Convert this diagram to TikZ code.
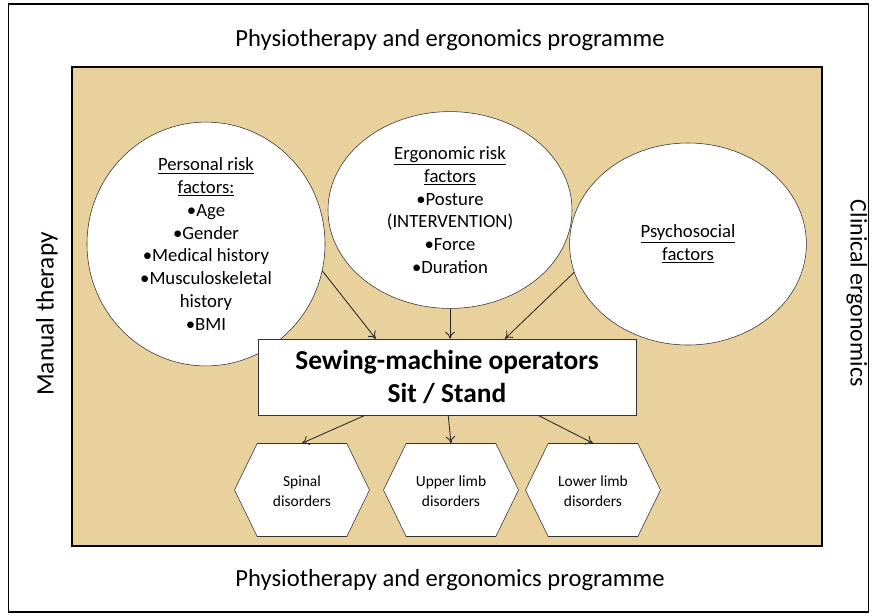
\documentclass[tikz,border=0pt]{standalone}
\usepackage{fontspec}
\setmainfont{Carlito}
\usepackage{xcolor}
\usepackage{tikz}
\usetikzlibrary{shapes.geometric, shapes.symbols, arrows.meta, positioning, calc}

\definecolor{papyrus}{RGB}{233,209,157}

\begin{document}
\begin{tikzpicture}[
    font=\fontsize{13.3}{16.2}\selectfont,
    >={To[length=5pt, width=7pt]},
    factor/.style={ellipse, draw=black!80, fill=white, inner sep=0pt, align=center},
    operator/.style={draw=black!80, fill=white, align=center, minimum width=9.45cm, minimum height=1.9cm, font=\fontsize{19.5}{23.5}\selectfont\bfseries},
    disorder/.style={signal, signal to=east and west, signal pointer angle=128, draw=black!80, fill=white, align=center, minimum width=3.375cm, minimum height=2.325cm, inner sep=1pt, font=\fontsize{11}{14.2}\selectfont},
    arrow/.style={->, black!85, line width=0.6pt},
    lbl/.style={font=\fontsize{17.5}{20}\selectfont}
]
\useasboundingbox (0,0) rectangle (21.85,-15.375);

% Frames
\draw[black, line width=0.9pt] (0.22,-0.1) rectangle (21.72,-15.3);
\draw[black, line width=1.6pt, fill=papyrus] (1.8,-1.675) rectangle (20.55,-13.65);

% Programme labels
\node[lbl] (top) at (11.25,-1.0) {Physiotherapy and ergonomics programme};
\node[lbl] (bottom) at (11.25,-14.5) {Physiotherapy and ergonomics programme};
\node[lbl, font=\fontsize{18}{20}\selectfont, rotate=90] (manual) at (1.17,-7.85) {Manual therapy};
\node[lbl, font=\fontsize{17}{20}\selectfont, rotate=-90] (clinical) at (21.42,-7.33) {Clinical ergonomics};

% Risk factors
\node[factor, minimum width=5.95cm, minimum height=5.05cm] (personal) at (5.15,-6.1)
    {\underline{Personal risk}\\\underline{factors:}\\•Age\\•Gender\\•Medical history\\•Musculoskeletal\\history\\•BMI};
\node[factor, minimum width=6.1cm, minimum height=4.92cm] (ergonomic) at (11.25,-5.25)
    {\underline{Ergonomic risk}\\\underline{factors}\\•Posture\\(INTERVENTION)\\•Force\\•Duration};
\node[factor, minimum width=5.92cm, minimum height=5.05cm] (psycho) at (17.2,-6.1)
    {\underline{Psychosocial}\\\underline{factors}};

% Operators
\node[operator] (operators) at (11.175,-9.425) {Sewing-machine operators\\Sit / Stand};

% Disorders
\node[disorder] (spinal) at (7.55,-12.25) {\strut Spinal\\disorders};
\node[disorder] (upper) at (11.275,-12.25) {\strut Upper limb\\disorders};
\node[disorder] (lower) at (14.825,-12.25) {\strut Lower limb\\disorders};

% Factors -> operators
\draw[arrow] (personal.-13) -- ([xshift=-1.78cm]operators.north);
\draw[arrow] (ergonomic.south) -- (ergonomic.south |- operators.north);
\draw[arrow] (psycho.194) -- ([xshift=1.45cm]operators.north);

% Operators -> disorders
\draw[arrow] ([xshift=-2.05cm]operators.south) -- (spinal.north);
\draw[arrow] ([xshift=0.03cm]operators.south) -- (upper.north);
\draw[arrow] ([xshift=2.275cm]operators.south) -- (lower.north);

\end{tikzpicture}
\end{document}
